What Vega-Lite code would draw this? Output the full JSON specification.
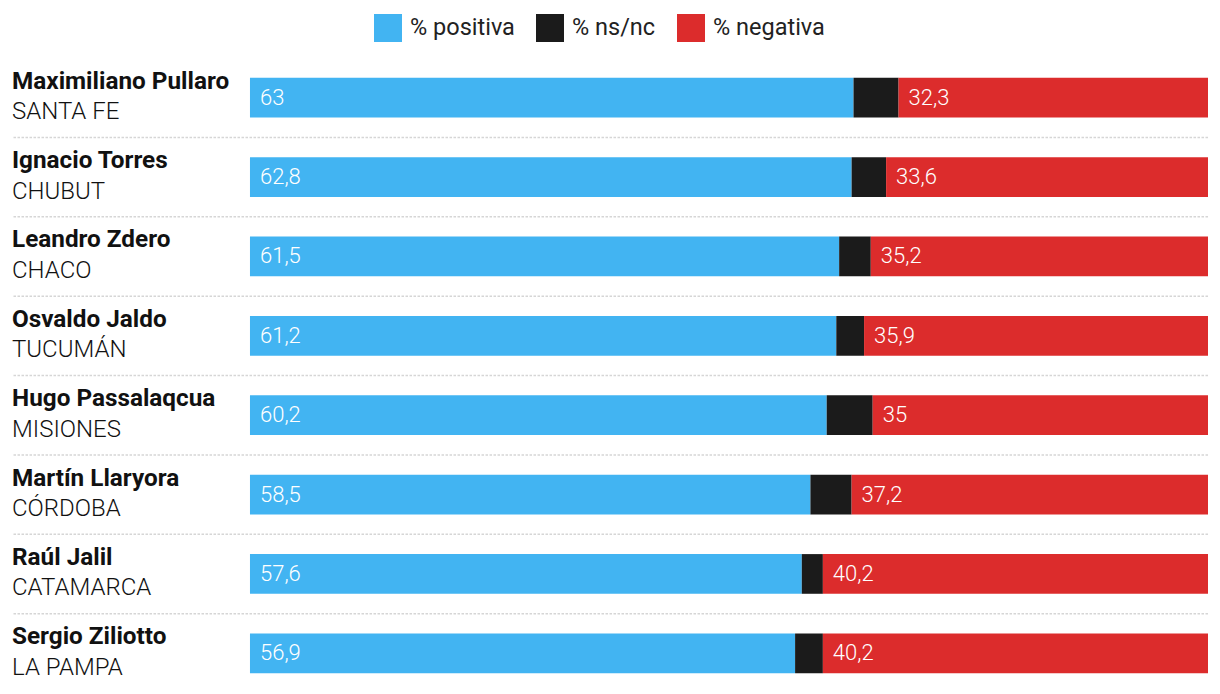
{
  "$schema": "https://vega.github.io/schema/vega-lite/v6.json",
  "width": 1196,
  "height": 635,
  "autosize": {"type": "none"},
  "padding": {"left": 12, "top": 58, "right": 12, "bottom": 1},
  "config": {
    "view": {"stroke": null},
    "font": "Roboto"
  },
  "data": {
    "values": [
      {"name": "Maximiliano Pullaro", "prov": "SANTA FE", "cat": "% positiva", "ord": 1, "val": 63},
      {"name": "Maximiliano Pullaro", "prov": "SANTA FE", "cat": "% ns/nc", "ord": 2, "val": 4.7},
      {"name": "Maximiliano Pullaro", "prov": "SANTA FE", "cat": "% negativa", "ord": 3, "val": 32.3},
      {"name": "Ignacio Torres", "prov": "CHUBUT", "cat": "% positiva", "ord": 1, "val": 62.8},
      {"name": "Ignacio Torres", "prov": "CHUBUT", "cat": "% ns/nc", "ord": 2, "val": 3.6},
      {"name": "Ignacio Torres", "prov": "CHUBUT", "cat": "% negativa", "ord": 3, "val": 33.6},
      {"name": "Leandro Zdero", "prov": "CHACO", "cat": "% positiva", "ord": 1, "val": 61.5},
      {"name": "Leandro Zdero", "prov": "CHACO", "cat": "% ns/nc", "ord": 2, "val": 3.3},
      {"name": "Leandro Zdero", "prov": "CHACO", "cat": "% negativa", "ord": 3, "val": 35.2},
      {"name": "Osvaldo Jaldo", "prov": "TUCUMÁN", "cat": "% positiva", "ord": 1, "val": 61.2},
      {"name": "Osvaldo Jaldo", "prov": "TUCUMÁN", "cat": "% ns/nc", "ord": 2, "val": 2.9},
      {"name": "Osvaldo Jaldo", "prov": "TUCUMÁN", "cat": "% negativa", "ord": 3, "val": 35.9},
      {"name": "Hugo Passalaqcua", "prov": "MISIONES", "cat": "% positiva", "ord": 1, "val": 60.2},
      {"name": "Hugo Passalaqcua", "prov": "MISIONES", "cat": "% ns/nc", "ord": 2, "val": 4.8},
      {"name": "Hugo Passalaqcua", "prov": "MISIONES", "cat": "% negativa", "ord": 3, "val": 35},
      {"name": "Martín Llaryora", "prov": "CÓRDOBA", "cat": "% positiva", "ord": 1, "val": 58.5},
      {"name": "Martín Llaryora", "prov": "CÓRDOBA", "cat": "% ns/nc", "ord": 2, "val": 4.3},
      {"name": "Martín Llaryora", "prov": "CÓRDOBA", "cat": "% negativa", "ord": 3, "val": 37.2},
      {"name": "Raúl Jalil", "prov": "CATAMARCA", "cat": "% positiva", "ord": 1, "val": 57.6},
      {"name": "Raúl Jalil", "prov": "CATAMARCA", "cat": "% ns/nc", "ord": 2, "val": 2.2},
      {"name": "Raúl Jalil", "prov": "CATAMARCA", "cat": "% negativa", "ord": 3, "val": 40.2},
      {"name": "Sergio Ziliotto", "prov": "LA PAMPA", "cat": "% positiva", "ord": 1, "val": 56.9},
      {"name": "Sergio Ziliotto", "prov": "LA PAMPA", "cat": "% ns/nc", "ord": 2, "val": 2.9},
      {"name": "Sergio Ziliotto", "prov": "LA PAMPA", "cat": "% negativa", "ord": 3, "val": 40.2}
    ]
  },
  "transform": [
    {"window": [{"op": "sum", "field": "val", "as": "x1"}], "groupby": ["name"], "sort": [{"field": "ord", "order": "ascending"}], "frame": [null, 0]},
    {"calculate": "datum.x1 - datum.val", "as": "x0"},
    {"calculate": "replace(format(datum.val, '.1~f'), '.', ',')", "as": "lbl"}
  ],
  "layer": [
    {
      "transform": [{"filter": "datum.ord == 1 && datum.name != 'Sergio Ziliotto'"}],
      "mark": {"type": "rule", "yOffset": 39.7, "color": "#d6d6d6", "strokeWidth": 1.5, "strokeDash": [2.5, 1.5]},
      "encoding": {
        "y": {"field": "name", "type": "nominal", "sort": null, "scale": {"paddingInner": 0.5, "paddingOuter": 0.25}, "axis": null}
      }
    },
    {
      "mark": {"type": "bar"},
      "encoding": {
        "y": {"field": "name", "type": "nominal", "sort": null, "axis": null},
        "x": {"field": "x0", "type": "quantitative", "scale": {"domain": [-24.84, 100], "nice": false, "zero": false}, "axis": null},
        "x2": {"field": "x1"},
        "color": {
          "field": "cat", "type": "nominal",
          "scale": {"domain": ["% positiva", "% ns/nc", "% negativa"], "range": ["#42b4f2", "#1b1b1b", "#dc2c2c"]},
          "legend": {
            "title": null, "orient": "none", "legendX": 362, "legendY": -44, "direction": "horizontal",
            "symbolType": "square", "symbolSize": 784, "symbolStrokeWidth": 0, "symbolOpacity": 1,
            "labelFontSize": 23.5, "labelColor": "#222", "labelOffset": 8, "columnPadding": 21, "padding": 0,
            "labelFont": "Roboto"
          }
        }
      }
    },
    {
      "transform": [{"filter": "datum.ord != 2"}],
      "mark": {"type": "text", "align": "left", "baseline": "middle", "dx": 10, "fontSize": 22, "fontWeight": 300, "color": "white"},
      "encoding": {
        "y": {"field": "name", "type": "nominal", "sort": null, "axis": null},
        "x": {"field": "x0", "type": "quantitative"},
        "text": {"field": "lbl"}
      }
    },
    {
      "transform": [{"filter": "datum.ord == 1"}],
      "mark": {"type": "text", "align": "left", "baseline": "alphabetic", "dy": -9, "fontSize": 24.3, "fontWeight": "bold", "color": "#111"},
      "encoding": {
        "y": {"field": "name", "type": "nominal", "sort": null, "axis": null},
        "x": {"datum": -24.84},
        "text": {"field": "name"}
      }
    },
    {
      "transform": [{"filter": "datum.ord == 1"}],
      "mark": {"type": "text", "align": "left", "baseline": "alphabetic", "dy": 21.5, "fontSize": 24, "fontWeight": 300, "color": "#111"},
      "encoding": {
        "y": {"field": "name", "type": "nominal", "sort": null, "axis": null},
        "x": {"datum": -24.84},
        "text": {"field": "prov"}
      }
    }
  ]
}
